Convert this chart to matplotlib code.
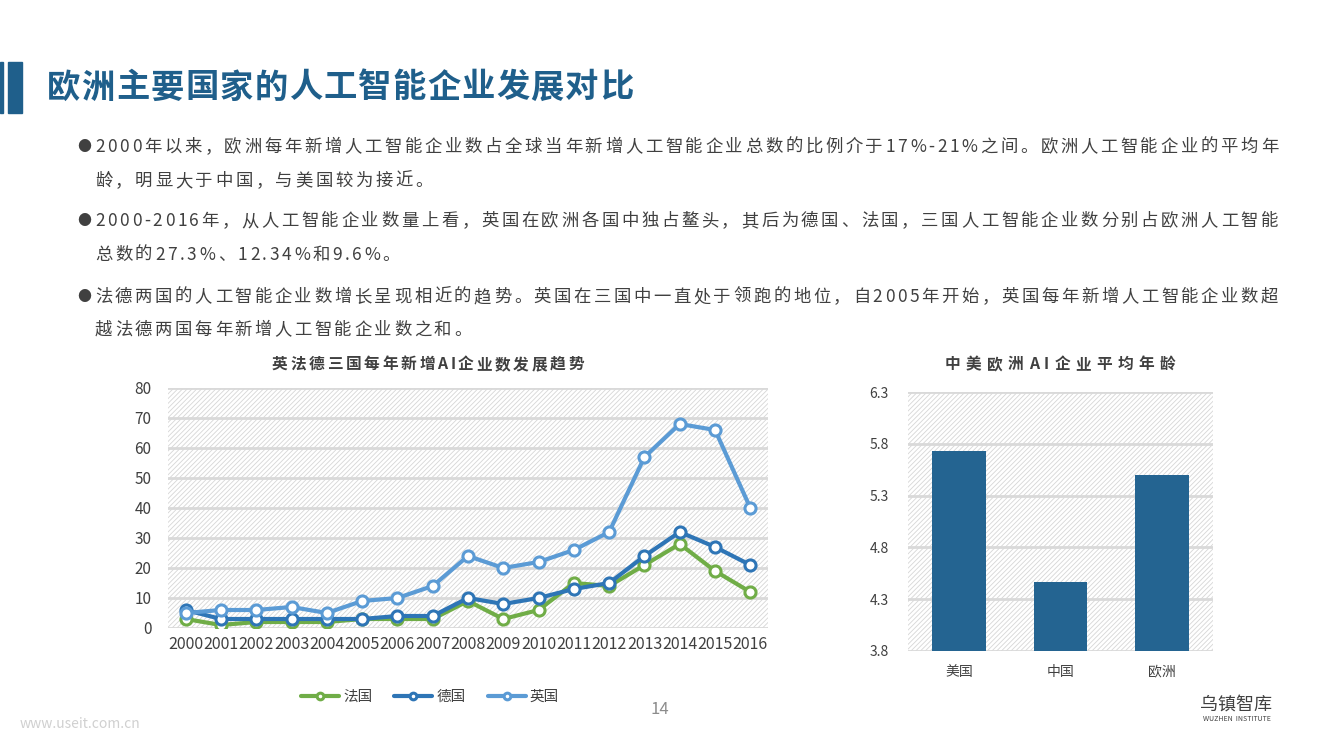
import matplotlib
matplotlib.use("Agg")
import matplotlib.pyplot as plt
from matplotlib.patches import Rectangle
from matplotlib.font_manager import FontProperties
import numpy as np

plt.rcParams['font.family'] = ['Noto Sans CJK SC', 'DejaVu Sans']
plt.rcParams['hatch.linewidth'] = 0.6
plt.rcParams['hatch.color'] = '#D6D6D6'

years = [str(y) for y in range(2000, 2017)]
france = [3, 1, 2, 2, 2, 3, 3, 3, 9, 3, 6, 15, 14, 21, 28, 19, 12]
germany = [6, 3, 3, 3, 3, 3, 4, 4, 10, 8, 10, 13, 15, 24, 32, 27, 21]
uk = [5, 6, 6, 7, 5, 9, 10, 14, 24, 20, 22, 26, 32, 57, 68, 66, 40]
series_names = ['法国', '德国', '英国']
series_colors = ['#70AD47', '#2E75B6', '#5B9BD5']

regions = ['美国', '中国', '欧洲']
avg_age = [5.73, 4.47, 5.50]

title = '欧洲主要国家的人工智能企业发展对比'
chart1_title = '英法德三国每年新增AI企业数发展趋势'
chart2_title = '中美欧洲AI企业平均年龄'
bullets = [
    ['2000年以来，欧洲每年新增人工智能企业数占全球当年新增人工智能企业总数的比例介于17%-21%之间。欧洲人工智能企业的平均年',
     '龄，明显大于中国，与美国较为接近。'],
    ['2000-2016年，从人工智能企业数量上看，英国在欧洲各国中独占鳌头，其后为德国、法国，三国人工智能企业数分别占欧洲人工智能',
     '总数的27.3%、12.34%和9.6%。'],
    ['法德两国的人工智能企业数增长呈现相近的趋势。英国在三国中一直处于领跑的地位，自2005年开始，英国每年新增人工智能企业数超',
     '越法德两国每年新增人工智能企业数之和。'],
]

W, H = 1320, 743
fig = plt.figure(figsize=(W / 100, H / 100), dpi=100)
fig.patch.set_facecolor('white')
renderer = fig.canvas.get_renderer()


def px(x, y):
    return x / W, 1 - y / H


def char_widths(s, size, weight='normal'):
    prop = FontProperties(family=['Noto Sans CJK SC', 'DejaVu Sans'], size=size, weight=weight)
    ws = []
    for ch in s:
        w, h, d = renderer.get_text_width_height_descent(ch, prop, ismath=False)
        ws.append(w)
    return ws


def spaced_text(x0, y, s, size, spacing=None, x1=None, weight='normal', color='#404040'):
    ws = char_widths(s, size, weight)
    if spacing is None:
        spacing = (x1 - x0 - sum(ws)) / max(len(s) - 1, 1)
    x = x0
    for ch, w in zip(s, ws):
        fig.text(*px(x, y), ch, fontsize=size, fontweight=weight, color=color,
                 ha='left', va='center')
        x += w + spacing
    return spacing


# header bars
fig.patches.append(Rectangle(px(0, 113), 3 / W, 51 / H, transform=fig.transFigure, color='#1F5F8B'))
fig.patches.append(Rectangle(px(8, 113), 14 / W, 51 / H, transform=fig.transFigure, color='#1F5F8B'))
spaced_text(47, 88, title, 24, x1=633, weight='bold', color='#1F5F8B')

# bullets
line_y = [[147, 181], [221, 255], [297, 330]]
for b, ys in zip(bullets, line_y):
    fig.text(*px(77, ys[0]), '●', fontsize=10, color='#404040', va='center', ha='left')
    sp = spaced_text(95, ys[0], b[0], 12.5, x1=1278)
    spaced_text(95, ys[1], b[1], 12.5, spacing=sp)


def hatch_bg(ax):
    ax.set_facecolor('white')
    r = Rectangle((0, 0), 1, 1, transform=ax.transAxes, facecolor='white',
                  edgecolor='#D6D6D6', hatch='///////', lw=0, zorder=0)
    ax.add_patch(r)


# left chart
ax1 = fig.add_axes([168 / W, 1 - 628 / H, 600 / W, 240 / H])
hatch_bg(ax1)
x = np.arange(len(years))
for vals, name, c in zip([france, germany, uk], series_names, series_colors):
    ax1.plot(x, vals, color=c, lw=3, marker='o', ms=8, mfc='white', mec=c, mew=2.2,
             label=name, zorder=3, solid_capstyle='round')
ax1.set_xlim(-0.5, len(years) - 0.5)
ax1.set_ylim(0, 80)
ax1.set_yticks(range(0, 81, 10))
ax1.set_xticks(x)
ax1.set_xticklabels(years, fontsize=11.5, color='#404040')
ax1.tick_params(axis='y', labelsize=11, labelcolor='#404040', length=0, pad=12)
ax1.tick_params(axis='x', length=0, pad=6)
ax1.grid(axis='y', color='#D9D9D9', lw=2, zorder=1)
ax1.set_axisbelow(True)
for s in ax1.spines.values():
    s.set_visible(False)
spaced_text(272, 364, chart1_title, 11.3, x1=584, weight='bold')
leg = fig.legend(*ax1.get_legend_handles_labels(), loc='center', bbox_to_anchor=px(430, 697),
                 ncol=3, frameon=False, fontsize=10.5, handlelength=2.6, columnspacing=1.5,
                 handletextpad=0.3, markerscale=0.6)
for t in leg.get_texts():
    t.set_color('#404040')

# right chart
ax2 = fig.add_axes([908 / W, 1 - 651 / H, 305 / W, 259 / H])
hatch_bg(ax2)
ax2.bar(range(len(regions)), avg_age, width=0.53, color='#246491', zorder=3)
ax2.set_ylim(3.8, 6.3)
ax2.set_yticks([3.8, 4.3, 4.8, 5.3, 5.8, 6.3])
ax2.set_yticklabels(['3.8', '4.3', '4.8', '5.3', '5.8', '6.3'])
ax2.set_xlim(-0.5, 2.5)
ax2.set_xticks(range(len(regions)))
ax2.set_xticklabels(regions, fontsize=10, color='#404040')
ax2.tick_params(axis='y', labelsize=10, labelcolor='#404040', length=0, pad=14)
ax2.tick_params(axis='x', length=0, pad=10)
ax2.grid(axis='y', color='#D9D9D9', lw=2, zorder=1)
ax2.set_axisbelow(True)
for s in ax2.spines.values():
    s.set_visible(False)
spaced_text(945, 364, chart2_title, 11.3, x1=1175, weight='bold')

# page number and logo
fig.text(*px(660, 709), '14', fontsize=12, color='#8C8C8C', ha='center', va='center')
fig.text(*px(1200, 705), '乌镇智库', fontsize=13, color='#404040', ha='left', va='center')
fig.text(*px(1203, 719), 'WUZHEN  INSTITUTE', fontsize=5, color='#404040', ha='left', va='center')
fig.text(*px(20, 724), 'www.useit.com.cn', fontsize=10, color='#D0D0D0', ha='left', va='center',
         style='italic')

fig.savefig('out.png', dpi=100, facecolor='white')
